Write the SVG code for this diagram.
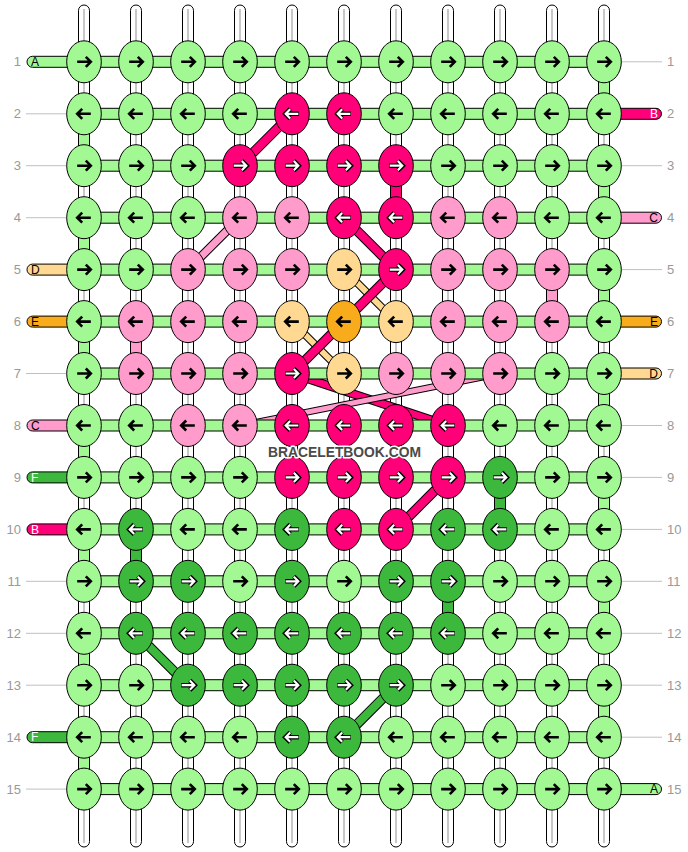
<svg xmlns="http://www.w3.org/2000/svg" xmlns:xlink="http://www.w3.org/1999/xlink" width="688" height="852" viewBox="0 0 688 852">
<style>
.warp{fill:#fff;stroke:#000;stroke-width:1}
.wl{stroke:#c8c8c8;stroke-width:2}
.seg{stroke:#000;stroke-width:1}
ellipse{stroke:#000;stroke-width:1}
.lg{fill:#a2f994}.dg{fill:#3cb93c}.m{fill:#ff0078}.p{fill:#ff9ccb}.pe{fill:#ffd992}.o{fill:#f9ac1b}
.dm{stroke:#ff0078}.dp{stroke:#ff9ccb}.dpe{stroke:#ffd992}.ddg{stroke:#3cb93c}.ol{stroke:#000}
.diag{fill:none;stroke-linecap:butt}
.num{font-family:"Liberation Sans",Arial,sans-serif;font-size:13px;fill:#999}
.tl{font-family:"Liberation Sans",Arial,sans-serif;font-size:12px;fill:#000}
.tw{font-family:"Liberation Sans",Arial,sans-serif;font-size:12px;fill:#fff}
.gl{stroke:#c0c0c0;stroke-width:1}
</style>
<defs>
<g id="ar"><path d="M-6.8,0H6M1.8,-5L6.8,0L1.8,5" fill="none" stroke="#000" stroke-width="2.6"/></g>
<g id="al"><use xlink:href="#ar" href="#ar" transform="scale(-1,1)"/></g>
<g id="wr"><path d="M-6.8,0H6M1.8,-5L6.8,0L1.8,5" fill="none" stroke="#000" stroke-width="4.4"/><path d="M-6.3,0H5.8M1.8,-4.6L6.3,0L1.8,4.6" fill="none" stroke="#fff" stroke-width="2.2"/></g>
<g id="wl"><use xlink:href="#wr" href="#wr" transform="scale(-1,1)"/></g>
</defs>

<g id="warps">
<rect class="warp" x="78.5" y="5" width="11" height="842" rx="5.5"/><line class="wl" x1="84" y1="9" x2="84" y2="843"/>
<rect class="warp" x="130.5" y="5" width="11" height="842" rx="5.5"/><line class="wl" x1="136" y1="9" x2="136" y2="843"/>
<rect class="warp" x="182.5" y="5" width="11" height="842" rx="5.5"/><line class="wl" x1="188" y1="9" x2="188" y2="843"/>
<rect class="warp" x="234.5" y="5" width="11" height="842" rx="5.5"/><line class="wl" x1="240" y1="9" x2="240" y2="843"/>
<rect class="warp" x="286.5" y="5" width="11" height="842" rx="5.5"/><line class="wl" x1="292" y1="9" x2="292" y2="843"/>
<rect class="warp" x="338.5" y="5" width="11" height="842" rx="5.5"/><line class="wl" x1="344" y1="9" x2="344" y2="843"/>
<rect class="warp" x="390.5" y="5" width="11" height="842" rx="5.5"/><line class="wl" x1="396" y1="9" x2="396" y2="843"/>
<rect class="warp" x="442.5" y="5" width="11" height="842" rx="5.5"/><line class="wl" x1="448" y1="9" x2="448" y2="843"/>
<rect class="warp" x="494.5" y="5" width="11" height="842" rx="5.5"/><line class="wl" x1="500" y1="9" x2="500" y2="843"/>
<rect class="warp" x="546.5" y="5" width="11" height="842" rx="5.5"/><line class="wl" x1="552" y1="9" x2="552" y2="843"/>
<rect class="warp" x="598.5" y="5" width="11" height="842" rx="5.5"/><line class="wl" x1="604" y1="9" x2="604" y2="843"/>
</g>

<g id="connectors">
<g id="diagonals" class="diag">
<line class="ol" x1="292" y1="113.8" x2="240" y2="165.7" stroke-width="10"/><line class="dm" x1="292" y1="113.8" x2="240" y2="165.7" stroke-width="8"/>
<line class="ol" x1="344" y1="217.7" x2="396" y2="269.6" stroke-width="10"/><line class="dm" x1="344" y1="217.7" x2="396" y2="269.6" stroke-width="8"/>
<line class="ol" x1="240" y1="217.7" x2="188" y2="269.6" stroke-width="9"/><line class="dp" x1="240" y1="217.7" x2="188" y2="269.6" stroke-width="7"/>
<line class="ol" x1="344" y1="269.6" x2="396" y2="321.6" stroke-width="8"/><line class="dpe" x1="344" y1="269.6" x2="396" y2="321.6" stroke-width="6"/>
<line class="ol" x1="292" y1="321.6" x2="344" y2="373.5" stroke-width="8"/><line class="dpe" x1="292" y1="321.6" x2="344" y2="373.5" stroke-width="6"/>
<line class="ol" x1="396" y1="269.6" x2="292" y2="373.5" stroke-width="10"/><line class="dm" x1="396" y1="269.6" x2="292" y2="373.5" stroke-width="8"/>
<line class="ol" x1="292" y1="373.5" x2="448" y2="425.5" stroke-width="9"/><line class="dm" x1="292" y1="373.5" x2="448" y2="425.5" stroke-width="7"/>
<line class="ol" x1="500" y1="373.5" x2="240" y2="425.5" stroke-width="7"/><line class="dp" x1="500" y1="373.5" x2="240" y2="425.5" stroke-width="5"/>
<line class="ol" x1="448" y1="477.4" x2="396" y2="529.4" stroke-width="10"/><line class="dm" x1="448" y1="477.4" x2="396" y2="529.4" stroke-width="8"/>
<line class="ol" x1="136" y1="633.3" x2="188" y2="685.2" stroke-width="10"/><line class="ddg" x1="136" y1="633.3" x2="188" y2="685.2" stroke-width="8"/>
<line class="ol" x1="396" y1="685.2" x2="344" y2="737.2" stroke-width="10"/><line class="ddg" x1="396" y1="685.2" x2="344" y2="737.2" stroke-width="8"/>
</g>
<g id="verticals">
<rect class="seg lg" x="598.5" y="61.8" width="11" height="52"/>
<rect class="seg lg" x="78.5" y="113.8" width="11" height="52"/>
<rect class="seg lg" x="598.5" y="165.7" width="11" height="52"/>
<rect class="seg lg" x="78.5" y="217.7" width="11" height="52"/>
<rect class="seg lg" x="598.5" y="269.6" width="11" height="52"/>
<rect class="seg lg" x="78.5" y="321.6" width="11" height="52"/>
<rect class="seg lg" x="598.5" y="373.5" width="11" height="52"/>
<rect class="seg lg" x="78.5" y="425.5" width="11" height="52"/>
<rect class="seg lg" x="598.5" y="477.4" width="11" height="52"/>
<rect class="seg lg" x="78.5" y="529.4" width="11" height="52"/>
<rect class="seg lg" x="598.5" y="581.3" width="11" height="52"/>
<rect class="seg lg" x="78.5" y="633.3" width="11" height="52"/>
<rect class="seg lg" x="598.5" y="685.2" width="11" height="52"/>
<rect class="seg lg" x="78.5" y="737.2" width="11" height="52"/>
<rect class="seg m" x="390.5" y="165.7" width="11" height="52"/>
<rect class="seg p" x="546.5" y="269.6" width="11" height="52"/>
<rect class="seg p" x="130.5" y="321.6" width="11" height="52"/>
<rect class="seg dg" x="494.5" y="477.4" width="11" height="52"/>
<rect class="seg dg" x="130.5" y="529.4" width="11" height="52"/>
<rect class="seg dg" x="442.5" y="581.3" width="11" height="52"/>
</g>
<g id="rows">
<rect class="seg lg" x="84" y="56.3" width="520" height="11"/>
<rect class="seg lg" x="84" y="108.3" width="520" height="11"/>
<rect class="seg lg" x="84" y="160.2" width="520" height="11"/>
<rect class="seg lg" x="84" y="212.2" width="520" height="11"/>
<rect class="seg lg" x="84" y="264.1" width="520" height="11"/>
<rect class="seg lg" x="84" y="316.1" width="520" height="11"/>
<rect class="seg lg" x="84" y="368" width="520" height="11"/>
<rect class="seg lg" x="84" y="420" width="520" height="11"/>
<rect class="seg lg" x="84" y="471.9" width="520" height="11"/>
<rect class="seg lg" x="84" y="523.9" width="520" height="11"/>
<rect class="seg lg" x="84" y="575.8" width="520" height="11"/>
<rect class="seg lg" x="84" y="627.8" width="520" height="11"/>
<rect class="seg lg" x="84" y="679.7" width="520" height="11"/>
<rect class="seg lg" x="84" y="731.7" width="520" height="11"/>
<rect class="seg lg" x="84" y="783.6" width="520" height="11"/>
</g>
</g>

<g id="tabs">
<g id="tab-L1"><rect class="seg lg" x="27" y="56.3" width="60" height="11" rx="5.5"/><text class="tl" x="31" y="66">A</text></g>
<g id="tab-L5"><rect class="seg pe" x="27" y="264.1" width="60" height="11" rx="5.5"/><text class="tl" x="31" y="273.8">D</text></g>
<g id="tab-L6"><rect class="seg o" x="27" y="316.1" width="60" height="11" rx="5.5"/><text class="tl" x="31" y="325.8">E</text></g>
<g id="tab-L8"><rect class="seg p" x="27" y="420" width="60" height="11" rx="5.5"/><text class="tl" x="31" y="429.7">C</text></g>
<g id="tab-L9"><rect class="seg dg" x="27" y="471.9" width="60" height="11" rx="5.5"/><text class="tw" x="31" y="481.6">F</text></g>
<g id="tab-L10"><rect class="seg m" x="27" y="523.9" width="60" height="11" rx="5.5"/><text class="tw" x="31" y="533.6">B</text></g>
<g id="tab-L14"><rect class="seg dg" x="27" y="731.7" width="60" height="11" rx="5.5"/><text class="tw" x="31" y="741.4">F</text></g>
<g id="tab-R2"><rect class="seg m" x="601" y="108.3" width="60.5" height="11" rx="5.5"/><text class="tw" x="658" y="118" text-anchor="end">B</text></g>
<g id="tab-R4"><rect class="seg p" x="601" y="212.2" width="60.5" height="11" rx="5.5"/><text class="tl" x="658" y="221.9" text-anchor="end">C</text></g>
<g id="tab-R6"><rect class="seg o" x="601" y="316.1" width="60.5" height="11" rx="5.5"/><text class="tl" x="658" y="325.8" text-anchor="end">E</text></g>
<g id="tab-R7"><rect class="seg pe" x="601" y="368" width="60.5" height="11" rx="5.5"/><text class="tl" x="658" y="377.7" text-anchor="end">D</text></g>
<g id="tab-R15"><rect class="seg lg" x="601" y="783.6" width="60.5" height="11" rx="5.5"/><text class="tl" x="658" y="793.3" text-anchor="end">A</text></g>
</g>

<g id="guide-lines">
<line class="gl" x1="26" y1="113.8" x2="67" y2="113.8"/>
<line class="gl" x1="26" y1="165.7" x2="67" y2="165.7"/>
<line class="gl" x1="26" y1="217.7" x2="67" y2="217.7"/>
<line class="gl" x1="26" y1="373.5" x2="67" y2="373.5"/>
<line class="gl" x1="26" y1="581.3" x2="67" y2="581.3"/>
<line class="gl" x1="26" y1="633.3" x2="67" y2="633.3"/>
<line class="gl" x1="26" y1="685.2" x2="67" y2="685.2"/>
<line class="gl" x1="26" y1="789.1" x2="67" y2="789.1"/>
<line class="gl" x1="621" y1="61.8" x2="662" y2="61.8"/>
<line class="gl" x1="621" y1="165.7" x2="662" y2="165.7"/>
<line class="gl" x1="621" y1="269.6" x2="662" y2="269.6"/>
<line class="gl" x1="621" y1="425.5" x2="662" y2="425.5"/>
<line class="gl" x1="621" y1="477.4" x2="662" y2="477.4"/>
<line class="gl" x1="621" y1="529.4" x2="662" y2="529.4"/>
<line class="gl" x1="621" y1="581.3" x2="662" y2="581.3"/>
<line class="gl" x1="621" y1="633.3" x2="662" y2="633.3"/>
<line class="gl" x1="621" y1="685.2" x2="662" y2="685.2"/>
<line class="gl" x1="621" y1="737.2" x2="662" y2="737.2"/>
</g>

<g id="row-numbers">
<text class="num" x="21" y="66.3" text-anchor="end">1</text><text class="num" x="667" y="66.3">1</text>
<text class="num" x="21" y="118.3" text-anchor="end">2</text><text class="num" x="667" y="118.3">2</text>
<text class="num" x="21" y="170.2" text-anchor="end">3</text><text class="num" x="667" y="170.2">3</text>
<text class="num" x="21" y="222.2" text-anchor="end">4</text><text class="num" x="667" y="222.2">4</text>
<text class="num" x="21" y="274.1" text-anchor="end">5</text><text class="num" x="667" y="274.1">5</text>
<text class="num" x="21" y="326.1" text-anchor="end">6</text><text class="num" x="667" y="326.1">6</text>
<text class="num" x="21" y="378" text-anchor="end">7</text><text class="num" x="667" y="378">7</text>
<text class="num" x="21" y="430" text-anchor="end">8</text><text class="num" x="667" y="430">8</text>
<text class="num" x="21" y="481.9" text-anchor="end">9</text><text class="num" x="667" y="481.9">9</text>
<text class="num" x="21" y="533.9" text-anchor="end">10</text><text class="num" x="667" y="533.9">10</text>
<text class="num" x="21" y="585.8" text-anchor="end">11</text><text class="num" x="667" y="585.8">11</text>
<text class="num" x="21" y="637.8" text-anchor="end">12</text><text class="num" x="667" y="637.8">12</text>
<text class="num" x="21" y="689.7" text-anchor="end">13</text><text class="num" x="667" y="689.7">13</text>
<text class="num" x="21" y="741.7" text-anchor="end">14</text><text class="num" x="667" y="741.7">14</text>
<text class="num" x="21" y="793.6" text-anchor="end">15</text><text class="num" x="667" y="793.6">15</text>
</g>

<g id="knots">
<g id="k1-1" transform="translate(84,61.8)"><ellipse class="lg" rx="17.3" ry="21"/><use href="#ar"/></g>
<g id="k1-2" transform="translate(136,61.8)"><ellipse class="lg" rx="17.3" ry="21"/><use href="#ar"/></g>
<g id="k1-3" transform="translate(188,61.8)"><ellipse class="lg" rx="17.3" ry="21"/><use href="#ar"/></g>
<g id="k1-4" transform="translate(240,61.8)"><ellipse class="lg" rx="17.3" ry="21"/><use href="#ar"/></g>
<g id="k1-5" transform="translate(292,61.8)"><ellipse class="lg" rx="17.3" ry="21"/><use href="#ar"/></g>
<g id="k1-6" transform="translate(344,61.8)"><ellipse class="lg" rx="17.3" ry="21"/><use href="#ar"/></g>
<g id="k1-7" transform="translate(396,61.8)"><ellipse class="lg" rx="17.3" ry="21"/><use href="#ar"/></g>
<g id="k1-8" transform="translate(448,61.8)"><ellipse class="lg" rx="17.3" ry="21"/><use href="#ar"/></g>
<g id="k1-9" transform="translate(500,61.8)"><ellipse class="lg" rx="17.3" ry="21"/><use href="#ar"/></g>
<g id="k1-10" transform="translate(552,61.8)"><ellipse class="lg" rx="17.3" ry="21"/><use href="#ar"/></g>
<g id="k1-11" transform="translate(604,61.8)"><ellipse class="lg" rx="17.3" ry="21"/><use href="#ar"/></g>
<g id="k2-1" transform="translate(84,113.8)"><ellipse class="lg" rx="17.3" ry="21"/><use href="#al"/></g>
<g id="k2-2" transform="translate(136,113.8)"><ellipse class="lg" rx="17.3" ry="21"/><use href="#al"/></g>
<g id="k2-3" transform="translate(188,113.8)"><ellipse class="lg" rx="17.3" ry="21"/><use href="#al"/></g>
<g id="k2-4" transform="translate(240,113.8)"><ellipse class="lg" rx="17.3" ry="21"/><use href="#al"/></g>
<g id="k2-5" transform="translate(292,113.8)"><ellipse class="m" rx="17.3" ry="21"/><use href="#wl"/></g>
<g id="k2-6" transform="translate(344,113.8)"><ellipse class="m" rx="17.3" ry="21"/><use href="#wl"/></g>
<g id="k2-7" transform="translate(396,113.8)"><ellipse class="lg" rx="17.3" ry="21"/><use href="#al"/></g>
<g id="k2-8" transform="translate(448,113.8)"><ellipse class="lg" rx="17.3" ry="21"/><use href="#al"/></g>
<g id="k2-9" transform="translate(500,113.8)"><ellipse class="lg" rx="17.3" ry="21"/><use href="#al"/></g>
<g id="k2-10" transform="translate(552,113.8)"><ellipse class="lg" rx="17.3" ry="21"/><use href="#al"/></g>
<g id="k2-11" transform="translate(604,113.8)"><ellipse class="lg" rx="17.3" ry="21"/><use href="#al"/></g>
<g id="k3-1" transform="translate(84,165.7)"><ellipse class="lg" rx="17.3" ry="21"/><use href="#ar"/></g>
<g id="k3-2" transform="translate(136,165.7)"><ellipse class="lg" rx="17.3" ry="21"/><use href="#ar"/></g>
<g id="k3-3" transform="translate(188,165.7)"><ellipse class="lg" rx="17.3" ry="21"/><use href="#ar"/></g>
<g id="k3-4" transform="translate(240,165.7)"><ellipse class="m" rx="17.3" ry="21"/><use href="#wr"/></g>
<g id="k3-5" transform="translate(292,165.7)"><ellipse class="m" rx="17.3" ry="21"/><use href="#wr"/></g>
<g id="k3-6" transform="translate(344,165.7)"><ellipse class="m" rx="17.3" ry="21"/><use href="#wr"/></g>
<g id="k3-7" transform="translate(396,165.7)"><ellipse class="m" rx="17.3" ry="21"/><use href="#wr"/></g>
<g id="k3-8" transform="translate(448,165.7)"><ellipse class="lg" rx="17.3" ry="21"/><use href="#ar"/></g>
<g id="k3-9" transform="translate(500,165.7)"><ellipse class="lg" rx="17.3" ry="21"/><use href="#ar"/></g>
<g id="k3-10" transform="translate(552,165.7)"><ellipse class="lg" rx="17.3" ry="21"/><use href="#ar"/></g>
<g id="k3-11" transform="translate(604,165.7)"><ellipse class="lg" rx="17.3" ry="21"/><use href="#ar"/></g>
<g id="k4-1" transform="translate(84,217.7)"><ellipse class="lg" rx="17.3" ry="21"/><use href="#al"/></g>
<g id="k4-2" transform="translate(136,217.7)"><ellipse class="lg" rx="17.3" ry="21"/><use href="#al"/></g>
<g id="k4-3" transform="translate(188,217.7)"><ellipse class="lg" rx="17.3" ry="21"/><use href="#al"/></g>
<g id="k4-4" transform="translate(240,217.7)"><ellipse class="p" rx="17.3" ry="21"/><use href="#al"/></g>
<g id="k4-5" transform="translate(292,217.7)"><ellipse class="p" rx="17.3" ry="21"/><use href="#al"/></g>
<g id="k4-6" transform="translate(344,217.7)"><ellipse class="m" rx="17.3" ry="21"/><use href="#wl"/></g>
<g id="k4-7" transform="translate(396,217.7)"><ellipse class="m" rx="17.3" ry="21"/><use href="#wl"/></g>
<g id="k4-8" transform="translate(448,217.7)"><ellipse class="p" rx="17.3" ry="21"/><use href="#al"/></g>
<g id="k4-9" transform="translate(500,217.7)"><ellipse class="p" rx="17.3" ry="21"/><use href="#al"/></g>
<g id="k4-10" transform="translate(552,217.7)"><ellipse class="lg" rx="17.3" ry="21"/><use href="#al"/></g>
<g id="k4-11" transform="translate(604,217.7)"><ellipse class="lg" rx="17.3" ry="21"/><use href="#al"/></g>
<g id="k5-1" transform="translate(84,269.6)"><ellipse class="lg" rx="17.3" ry="21"/><use href="#ar"/></g>
<g id="k5-2" transform="translate(136,269.6)"><ellipse class="lg" rx="17.3" ry="21"/><use href="#ar"/></g>
<g id="k5-3" transform="translate(188,269.6)"><ellipse class="p" rx="17.3" ry="21"/><use href="#ar"/></g>
<g id="k5-4" transform="translate(240,269.6)"><ellipse class="p" rx="17.3" ry="21"/><use href="#ar"/></g>
<g id="k5-5" transform="translate(292,269.6)"><ellipse class="p" rx="17.3" ry="21"/><use href="#ar"/></g>
<g id="k5-6" transform="translate(344,269.6)"><ellipse class="pe" rx="17.3" ry="21"/><use href="#ar"/></g>
<g id="k5-7" transform="translate(396,269.6)"><ellipse class="m" rx="17.3" ry="21"/><use href="#wr"/></g>
<g id="k5-8" transform="translate(448,269.6)"><ellipse class="p" rx="17.3" ry="21"/><use href="#ar"/></g>
<g id="k5-9" transform="translate(500,269.6)"><ellipse class="p" rx="17.3" ry="21"/><use href="#ar"/></g>
<g id="k5-10" transform="translate(552,269.6)"><ellipse class="p" rx="17.3" ry="21"/><use href="#ar"/></g>
<g id="k5-11" transform="translate(604,269.6)"><ellipse class="lg" rx="17.3" ry="21"/><use href="#ar"/></g>
<g id="k6-1" transform="translate(84,321.6)"><ellipse class="lg" rx="17.3" ry="21"/><use href="#al"/></g>
<g id="k6-2" transform="translate(136,321.6)"><ellipse class="p" rx="17.3" ry="21"/><use href="#al"/></g>
<g id="k6-3" transform="translate(188,321.6)"><ellipse class="p" rx="17.3" ry="21"/><use href="#al"/></g>
<g id="k6-4" transform="translate(240,321.6)"><ellipse class="p" rx="17.3" ry="21"/><use href="#al"/></g>
<g id="k6-5" transform="translate(292,321.6)"><ellipse class="pe" rx="17.3" ry="21"/><use href="#al"/></g>
<g id="k6-6" transform="translate(344,321.6)"><ellipse class="o" rx="17.3" ry="21"/><use href="#al"/></g>
<g id="k6-7" transform="translate(396,321.6)"><ellipse class="pe" rx="17.3" ry="21"/><use href="#al"/></g>
<g id="k6-8" transform="translate(448,321.6)"><ellipse class="p" rx="17.3" ry="21"/><use href="#al"/></g>
<g id="k6-9" transform="translate(500,321.6)"><ellipse class="p" rx="17.3" ry="21"/><use href="#al"/></g>
<g id="k6-10" transform="translate(552,321.6)"><ellipse class="p" rx="17.3" ry="21"/><use href="#al"/></g>
<g id="k6-11" transform="translate(604,321.6)"><ellipse class="lg" rx="17.3" ry="21"/><use href="#al"/></g>
<g id="k7-1" transform="translate(84,373.5)"><ellipse class="lg" rx="17.3" ry="21"/><use href="#ar"/></g>
<g id="k7-2" transform="translate(136,373.5)"><ellipse class="p" rx="17.3" ry="21"/><use href="#ar"/></g>
<g id="k7-3" transform="translate(188,373.5)"><ellipse class="p" rx="17.3" ry="21"/><use href="#ar"/></g>
<g id="k7-4" transform="translate(240,373.5)"><ellipse class="p" rx="17.3" ry="21"/><use href="#ar"/></g>
<g id="k7-5" transform="translate(292,373.5)"><ellipse class="m" rx="17.3" ry="21"/><use href="#wr"/></g>
<g id="k7-6" transform="translate(344,373.5)"><ellipse class="pe" rx="17.3" ry="21"/><use href="#ar"/></g>
<g id="k7-7" transform="translate(396,373.5)"><ellipse class="p" rx="17.3" ry="21"/><use href="#ar"/></g>
<g id="k7-8" transform="translate(448,373.5)"><ellipse class="p" rx="17.3" ry="21"/><use href="#ar"/></g>
<g id="k7-9" transform="translate(500,373.5)"><ellipse class="p" rx="17.3" ry="21"/><use href="#ar"/></g>
<g id="k7-10" transform="translate(552,373.5)"><ellipse class="lg" rx="17.3" ry="21"/><use href="#ar"/></g>
<g id="k7-11" transform="translate(604,373.5)"><ellipse class="lg" rx="17.3" ry="21"/><use href="#ar"/></g>
<g id="k8-1" transform="translate(84,425.5)"><ellipse class="lg" rx="17.3" ry="21"/><use href="#al"/></g>
<g id="k8-2" transform="translate(136,425.5)"><ellipse class="lg" rx="17.3" ry="21"/><use href="#al"/></g>
<g id="k8-3" transform="translate(188,425.5)"><ellipse class="p" rx="17.3" ry="21"/><use href="#al"/></g>
<g id="k8-4" transform="translate(240,425.5)"><ellipse class="p" rx="17.3" ry="21"/><use href="#al"/></g>
<g id="k8-5" transform="translate(292,425.5)"><ellipse class="m" rx="17.3" ry="21"/><use href="#wl"/></g>
<g id="k8-6" transform="translate(344,425.5)"><ellipse class="m" rx="17.3" ry="21"/><use href="#wl"/></g>
<g id="k8-7" transform="translate(396,425.5)"><ellipse class="m" rx="17.3" ry="21"/><use href="#wl"/></g>
<g id="k8-8" transform="translate(448,425.5)"><ellipse class="m" rx="17.3" ry="21"/><use href="#wl"/></g>
<g id="k8-9" transform="translate(500,425.5)"><ellipse class="lg" rx="17.3" ry="21"/><use href="#al"/></g>
<g id="k8-10" transform="translate(552,425.5)"><ellipse class="lg" rx="17.3" ry="21"/><use href="#al"/></g>
<g id="k8-11" transform="translate(604,425.5)"><ellipse class="lg" rx="17.3" ry="21"/><use href="#al"/></g>
<g id="k9-1" transform="translate(84,477.4)"><ellipse class="lg" rx="17.3" ry="21"/><use href="#ar"/></g>
<g id="k9-2" transform="translate(136,477.4)"><ellipse class="lg" rx="17.3" ry="21"/><use href="#ar"/></g>
<g id="k9-3" transform="translate(188,477.4)"><ellipse class="lg" rx="17.3" ry="21"/><use href="#ar"/></g>
<g id="k9-4" transform="translate(240,477.4)"><ellipse class="lg" rx="17.3" ry="21"/><use href="#ar"/></g>
<g id="k9-5" transform="translate(292,477.4)"><ellipse class="m" rx="17.3" ry="21"/><use href="#wr"/></g>
<g id="k9-6" transform="translate(344,477.4)"><ellipse class="m" rx="17.3" ry="21"/><use href="#wr"/></g>
<g id="k9-7" transform="translate(396,477.4)"><ellipse class="m" rx="17.3" ry="21"/><use href="#wr"/></g>
<g id="k9-8" transform="translate(448,477.4)"><ellipse class="m" rx="17.3" ry="21"/><use href="#wr"/></g>
<g id="k9-9" transform="translate(500,477.4)"><ellipse class="dg" rx="17.3" ry="21"/><use href="#wr"/></g>
<g id="k9-10" transform="translate(552,477.4)"><ellipse class="lg" rx="17.3" ry="21"/><use href="#ar"/></g>
<g id="k9-11" transform="translate(604,477.4)"><ellipse class="lg" rx="17.3" ry="21"/><use href="#ar"/></g>
<g id="k10-1" transform="translate(84,529.4)"><ellipse class="lg" rx="17.3" ry="21"/><use href="#al"/></g>
<g id="k10-2" transform="translate(136,529.4)"><ellipse class="dg" rx="17.3" ry="21"/><use href="#wl"/></g>
<g id="k10-3" transform="translate(188,529.4)"><ellipse class="lg" rx="17.3" ry="21"/><use href="#al"/></g>
<g id="k10-4" transform="translate(240,529.4)"><ellipse class="lg" rx="17.3" ry="21"/><use href="#al"/></g>
<g id="k10-5" transform="translate(292,529.4)"><ellipse class="dg" rx="17.3" ry="21"/><use href="#wl"/></g>
<g id="k10-6" transform="translate(344,529.4)"><ellipse class="m" rx="17.3" ry="21"/><use href="#wl"/></g>
<g id="k10-7" transform="translate(396,529.4)"><ellipse class="m" rx="17.3" ry="21"/><use href="#wl"/></g>
<g id="k10-8" transform="translate(448,529.4)"><ellipse class="dg" rx="17.3" ry="21"/><use href="#wl"/></g>
<g id="k10-9" transform="translate(500,529.4)"><ellipse class="dg" rx="17.3" ry="21"/><use href="#wl"/></g>
<g id="k10-10" transform="translate(552,529.4)"><ellipse class="lg" rx="17.3" ry="21"/><use href="#al"/></g>
<g id="k10-11" transform="translate(604,529.4)"><ellipse class="lg" rx="17.3" ry="21"/><use href="#al"/></g>
<g id="k11-1" transform="translate(84,581.3)"><ellipse class="lg" rx="17.3" ry="21"/><use href="#ar"/></g>
<g id="k11-2" transform="translate(136,581.3)"><ellipse class="dg" rx="17.3" ry="21"/><use href="#wr"/></g>
<g id="k11-3" transform="translate(188,581.3)"><ellipse class="dg" rx="17.3" ry="21"/><use href="#wr"/></g>
<g id="k11-4" transform="translate(240,581.3)"><ellipse class="lg" rx="17.3" ry="21"/><use href="#ar"/></g>
<g id="k11-5" transform="translate(292,581.3)"><ellipse class="dg" rx="17.3" ry="21"/><use href="#wr"/></g>
<g id="k11-6" transform="translate(344,581.3)"><ellipse class="lg" rx="17.3" ry="21"/><use href="#ar"/></g>
<g id="k11-7" transform="translate(396,581.3)"><ellipse class="dg" rx="17.3" ry="21"/><use href="#wr"/></g>
<g id="k11-8" transform="translate(448,581.3)"><ellipse class="dg" rx="17.3" ry="21"/><use href="#wr"/></g>
<g id="k11-9" transform="translate(500,581.3)"><ellipse class="lg" rx="17.3" ry="21"/><use href="#ar"/></g>
<g id="k11-10" transform="translate(552,581.3)"><ellipse class="lg" rx="17.3" ry="21"/><use href="#ar"/></g>
<g id="k11-11" transform="translate(604,581.3)"><ellipse class="lg" rx="17.3" ry="21"/><use href="#ar"/></g>
<g id="k12-1" transform="translate(84,633.3)"><ellipse class="lg" rx="17.3" ry="21"/><use href="#al"/></g>
<g id="k12-2" transform="translate(136,633.3)"><ellipse class="dg" rx="17.3" ry="21"/><use href="#wl"/></g>
<g id="k12-3" transform="translate(188,633.3)"><ellipse class="dg" rx="17.3" ry="21"/><use href="#wl"/></g>
<g id="k12-4" transform="translate(240,633.3)"><ellipse class="dg" rx="17.3" ry="21"/><use href="#wl"/></g>
<g id="k12-5" transform="translate(292,633.3)"><ellipse class="dg" rx="17.3" ry="21"/><use href="#wl"/></g>
<g id="k12-6" transform="translate(344,633.3)"><ellipse class="dg" rx="17.3" ry="21"/><use href="#wl"/></g>
<g id="k12-7" transform="translate(396,633.3)"><ellipse class="dg" rx="17.3" ry="21"/><use href="#wl"/></g>
<g id="k12-8" transform="translate(448,633.3)"><ellipse class="dg" rx="17.3" ry="21"/><use href="#wl"/></g>
<g id="k12-9" transform="translate(500,633.3)"><ellipse class="lg" rx="17.3" ry="21"/><use href="#al"/></g>
<g id="k12-10" transform="translate(552,633.3)"><ellipse class="lg" rx="17.3" ry="21"/><use href="#al"/></g>
<g id="k12-11" transform="translate(604,633.3)"><ellipse class="lg" rx="17.3" ry="21"/><use href="#al"/></g>
<g id="k13-1" transform="translate(84,685.2)"><ellipse class="lg" rx="17.3" ry="21"/><use href="#ar"/></g>
<g id="k13-2" transform="translate(136,685.2)"><ellipse class="lg" rx="17.3" ry="21"/><use href="#ar"/></g>
<g id="k13-3" transform="translate(188,685.2)"><ellipse class="dg" rx="17.3" ry="21"/><use href="#wr"/></g>
<g id="k13-4" transform="translate(240,685.2)"><ellipse class="dg" rx="17.3" ry="21"/><use href="#wr"/></g>
<g id="k13-5" transform="translate(292,685.2)"><ellipse class="dg" rx="17.3" ry="21"/><use href="#wr"/></g>
<g id="k13-6" transform="translate(344,685.2)"><ellipse class="dg" rx="17.3" ry="21"/><use href="#wr"/></g>
<g id="k13-7" transform="translate(396,685.2)"><ellipse class="dg" rx="17.3" ry="21"/><use href="#wr"/></g>
<g id="k13-8" transform="translate(448,685.2)"><ellipse class="lg" rx="17.3" ry="21"/><use href="#ar"/></g>
<g id="k13-9" transform="translate(500,685.2)"><ellipse class="lg" rx="17.3" ry="21"/><use href="#ar"/></g>
<g id="k13-10" transform="translate(552,685.2)"><ellipse class="lg" rx="17.3" ry="21"/><use href="#ar"/></g>
<g id="k13-11" transform="translate(604,685.2)"><ellipse class="lg" rx="17.3" ry="21"/><use href="#ar"/></g>
<g id="k14-1" transform="translate(84,737.2)"><ellipse class="lg" rx="17.3" ry="21"/><use href="#al"/></g>
<g id="k14-2" transform="translate(136,737.2)"><ellipse class="lg" rx="17.3" ry="21"/><use href="#al"/></g>
<g id="k14-3" transform="translate(188,737.2)"><ellipse class="lg" rx="17.3" ry="21"/><use href="#al"/></g>
<g id="k14-4" transform="translate(240,737.2)"><ellipse class="lg" rx="17.3" ry="21"/><use href="#al"/></g>
<g id="k14-5" transform="translate(292,737.2)"><ellipse class="dg" rx="17.3" ry="21"/><use href="#wl"/></g>
<g id="k14-6" transform="translate(344,737.2)"><ellipse class="dg" rx="17.3" ry="21"/><use href="#wl"/></g>
<g id="k14-7" transform="translate(396,737.2)"><ellipse class="lg" rx="17.3" ry="21"/><use href="#al"/></g>
<g id="k14-8" transform="translate(448,737.2)"><ellipse class="lg" rx="17.3" ry="21"/><use href="#al"/></g>
<g id="k14-9" transform="translate(500,737.2)"><ellipse class="lg" rx="17.3" ry="21"/><use href="#al"/></g>
<g id="k14-10" transform="translate(552,737.2)"><ellipse class="lg" rx="17.3" ry="21"/><use href="#al"/></g>
<g id="k14-11" transform="translate(604,737.2)"><ellipse class="lg" rx="17.3" ry="21"/><use href="#al"/></g>
<g id="k15-1" transform="translate(84,789.1)"><ellipse class="lg" rx="17.3" ry="21"/><use href="#ar"/></g>
<g id="k15-2" transform="translate(136,789.1)"><ellipse class="lg" rx="17.3" ry="21"/><use href="#ar"/></g>
<g id="k15-3" transform="translate(188,789.1)"><ellipse class="lg" rx="17.3" ry="21"/><use href="#ar"/></g>
<g id="k15-4" transform="translate(240,789.1)"><ellipse class="lg" rx="17.3" ry="21"/><use href="#ar"/></g>
<g id="k15-5" transform="translate(292,789.1)"><ellipse class="lg" rx="17.3" ry="21"/><use href="#ar"/></g>
<g id="k15-6" transform="translate(344,789.1)"><ellipse class="lg" rx="17.3" ry="21"/><use href="#ar"/></g>
<g id="k15-7" transform="translate(396,789.1)"><ellipse class="lg" rx="17.3" ry="21"/><use href="#ar"/></g>
<g id="k15-8" transform="translate(448,789.1)"><ellipse class="lg" rx="17.3" ry="21"/><use href="#ar"/></g>
<g id="k15-9" transform="translate(500,789.1)"><ellipse class="lg" rx="17.3" ry="21"/><use href="#ar"/></g>
<g id="k15-10" transform="translate(552,789.1)"><ellipse class="lg" rx="17.3" ry="21"/><use href="#ar"/></g>
<g id="k15-11" transform="translate(604,789.1)"><ellipse class="lg" rx="17.3" ry="21"/><use href="#ar"/></g>
</g>

<text id="watermark" x="344.5" y="457" text-anchor="middle" font-family="'Liberation Sans',Arial,sans-serif" font-weight="bold" font-size="15" fill="#4a4a4a" stroke="#fff" stroke-width="3" paint-order="stroke" stroke-linejoin="round" textLength="153" lengthAdjust="spacingAndGlyphs">BRACELETBOOK.COM</text>
</svg>
